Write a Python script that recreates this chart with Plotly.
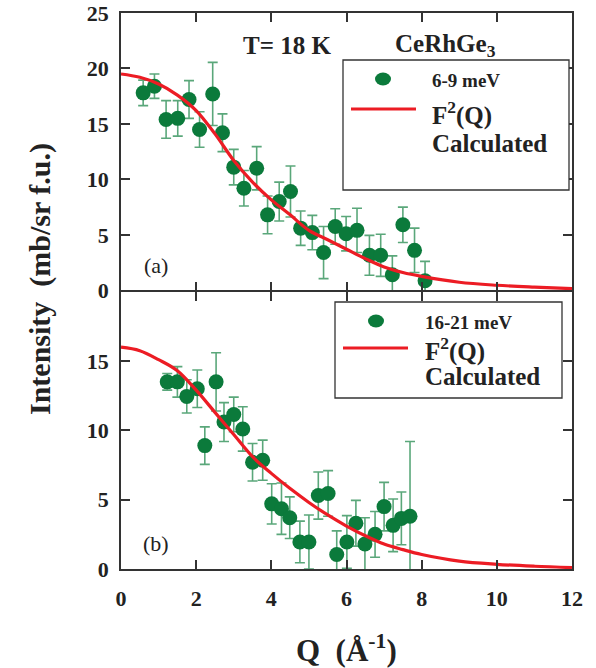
import plotly.graph_objects as go

# ---------------- data ----------------
# panel (a): 6-9 meV
q_a = [0.59, 0.89, 1.20, 1.51, 1.81, 2.09, 2.44, 2.70, 3.00, 3.27, 3.61, 3.90, 4.21, 4.51,
       4.78, 5.09, 5.39, 5.70, 5.99, 6.28, 6.61, 6.91, 7.22, 7.50, 7.81, 8.09]
i_a = [17.8, 18.4, 15.4, 15.5, 17.2, 14.5, 17.7, 14.2, 11.1, 9.2, 11.0, 6.8, 8.0, 8.9,
       5.6, 5.2, 3.4, 5.75, 5.1, 5.4, 3.15, 3.15, 1.4, 5.9, 3.6, 0.85]
e_a = [1.15, 1.1, 1.7, 1.6, 1.7, 1.6, 2.85, 1.7, 1.6, 1.6, 1.95, 1.7, 1.75, 2.3,
       1.55, 1.55, 2.35, 1.6, 1.55, 2.0, 1.8, 1.9, 1.7, 1.6, 2.0, 1.75]

# panel (b): 16-21 meV
q_b = [1.23, 1.50, 1.75, 2.03, 2.23, 2.53, 2.74, 3.00, 3.24, 3.50, 3.77, 4.01, 4.27, 4.49,
       4.76, 5.00, 5.25, 5.51, 5.74, 6.01, 6.25, 6.49, 6.76, 7.00, 7.24, 7.46, 7.69]
i_b = [13.5, 13.5, 12.45, 13.0, 8.9, 13.5, 10.6, 11.15, 10.1, 7.7, 7.85, 4.7, 4.35, 3.7,
       1.95, 1.95, 5.3, 5.45, 1.05, 1.95, 3.3, 1.8, 2.5, 4.5, 3.15, 3.65, 3.8]
e_b = [0.6, 1.1, 1.2, 1.35, 1.35, 2.1, 1.4, 1.25, 1.6, 1.35, 1.45, 1.45, 1.85, 1.5,
       1.5, 1.95, 1.7, 1.65, 1.7, 1.9, 1.65, 1.9, 1.65, 1.75, 1.9, 1.9, 5.4]

# calculated F^2(Q) curves
q_calc = [0, 0.5, 1.0, 1.5, 2.0, 2.5, 3.0, 3.5, 4.0, 4.5, 5.0, 5.5, 6.0, 6.5, 7.0, 7.5,
          8.0, 9.0, 10.0, 11.0, 12.0]
f_a = [19.5, 19.2, 18.6, 17.6, 16.2, 14.1, 11.7, 9.75, 8.15, 6.8, 5.4, 4.55, 3.7, 2.85,
       2.1, 1.6, 1.25, 0.72, 0.45, 0.28, 0.15]
f_b = [16.0, 15.75, 15.1, 14.3, 12.9, 11.3, 9.7, 8.1, 6.9, 5.8, 4.8, 3.9, 3.1, 2.4,
       1.8, 1.4, 1.05, 0.57, 0.34, 0.2, 0.1]

label_a = "6-9 meV"
label_b = "16-21 meV"

# ---------------- style ----------------
W, H = 596, 668
L, R, T, B = 121, 24, 13, 99
PW, PH = W - L - R, H - T - B
GREEN = "#0b7a3b"
ERR = "rgba(20,130,65,0.7)"
RED = "#ec1c24"
AX = "#333333"
SERIF = "Liberation Serif, Times New Roman, serif"
GAP = 0.75 / PH


def px(x):
    return (x - L) / PW


def py(y):
    return (H - B - y) / PH


fig = go.Figure()

for q, i, e, xa, ya in [(q_a, i_a, e_a, "x", "y"), (q_b, i_b, e_b, "x2", "y2")]:
    fig.add_trace(go.Scatter(
        x=q, y=i, mode="markers", xaxis=xa, yaxis=ya, showlegend=False,
        marker=dict(color=GREEN, size=15, line=dict(width=0)),
        error_y=dict(type="data", array=e, visible=True, color=ERR, thickness=1.6, width=5),
        cliponaxis=False,
    ))

for f, xa, ya in [(f_a, "x", "y"), (f_b, "x2", "y2")]:
    fig.add_trace(go.Scatter(
        x=q_calc, y=f, mode="lines", xaxis=xa, yaxis=ya, showlegend=False,
        line=dict(color=RED, width=3.2, shape="spline", smoothing=1.0),
    ))

axis_common = dict(
    showline=True, mirror="ticks", linecolor=AX, linewidth=1.5,
    ticks="inside", ticklen=9, tickwidth=1.5, tickcolor=AX,
    showgrid=False, zeroline=False, automargin=False,
    tickfont=dict(family=SERIF, size=22, color="#222222", weight="bold"),
)

fig.update_layout(
    width=W, height=H,
    margin=dict(l=L, r=R, t=T, b=B, autoexpand=False),
    paper_bgcolor="white", plot_bgcolor="white",
    showlegend=False,
    xaxis=dict(axis_common, range=[0, 12], tickvals=[0, 2, 4, 6, 8, 10, 12],
               showticklabels=False, anchor="y", domain=[0, 1]),
    yaxis=dict(axis_common, range=[0, 25], tickvals=[0, 5, 10, 15, 20, 25],
               domain=[0.5 + GAP, 1], anchor="x", ticklabelstandoff=6),
    xaxis2=dict(axis_common, range=[0, 12], tickvals=[0, 2, 4, 6, 8, 10, 12],
                anchor="y2", domain=[0, 1], ticklabelstandoff=9),
    yaxis2=dict(axis_common, range=[0, 20], tickvals=[0, 5, 10, 15],
                domain=[0, 0.5 - GAP], anchor="x2", ticklabelstandoff=6),
)

ann = []


def text(x, y, s, size, bold=True, xanchor="center", angle=0):
    ann.append(dict(
        x=px(x), y=py(y), xref="paper", yref="paper", text=s, showarrow=False,
        xanchor=xanchor, yanchor="middle", textangle=angle,
        font=dict(family=SERIF, size=size, color="#222222",
                  weight="bold" if bold else "normal"),
    ))


text(287, 46, "T= 18 K", 25)
text(445, 46, "CeRhGe<sub>3</sub>", 25)
text(156, 265, "(a)", 22, bold=False)
text(156, 543, "(b)", 22, bold=False)
text(40, 279, "Intensity  (mb/sr f.u.)", 30, angle=-90)
text(346, 648, "Q  (Å<sup>-1</sup>)", 31)

# legend (a)
text(430, 80, label_a, 19, xanchor="left")
text(430, 114, "F<sup>2</sup>(Q)", 25, xanchor="left")
text(430, 143, "Calculated", 25, xanchor="left")
# legend (b)
text(423, 322, label_b, 19, xanchor="left")
text(423, 349, "F<sup>2</sup>(Q)", 25, xanchor="left")
text(423, 377, "Calculated", 25, xanchor="left")

shapes = []
for (x0, y0, x1, y1) in [(343, 60, 569, 190), (335, 302, 562, 398)]:
    shapes.append(dict(type="rect", xref="paper", yref="paper",
                       x0=px(x0), x1=px(x1), y0=py(y0), y1=py(y1),
                       line=dict(color=AX, width=1.3), fillcolor="white", layer="above"))
for (cx, cy) in [(383, 79), (376, 321)]:
    shapes.append(dict(type="circle", xref="paper", yref="paper",
                       xsizemode="pixel", ysizemode="pixel",
                       xanchor=px(cx), yanchor=py(cy),
                       x0=-8, x1=8, y0=-6.5, y1=6.5,
                       fillcolor=GREEN, line=dict(width=0), layer="above"))
for (x0, x1, y) in [(351, 416, 109), (343, 408, 348)]:
    shapes.append(dict(type="line", xref="paper", yref="paper",
                       x0=px(x0), x1=px(x1), y0=py(y), y1=py(y),
                       line=dict(color=RED, width=3), layer="above"))

fig.update_layout(annotations=ann, shapes=shapes)
fig.write_html("out.html", config={"displayModeBar": False},
               post_script="document.body.style.margin='0';")
